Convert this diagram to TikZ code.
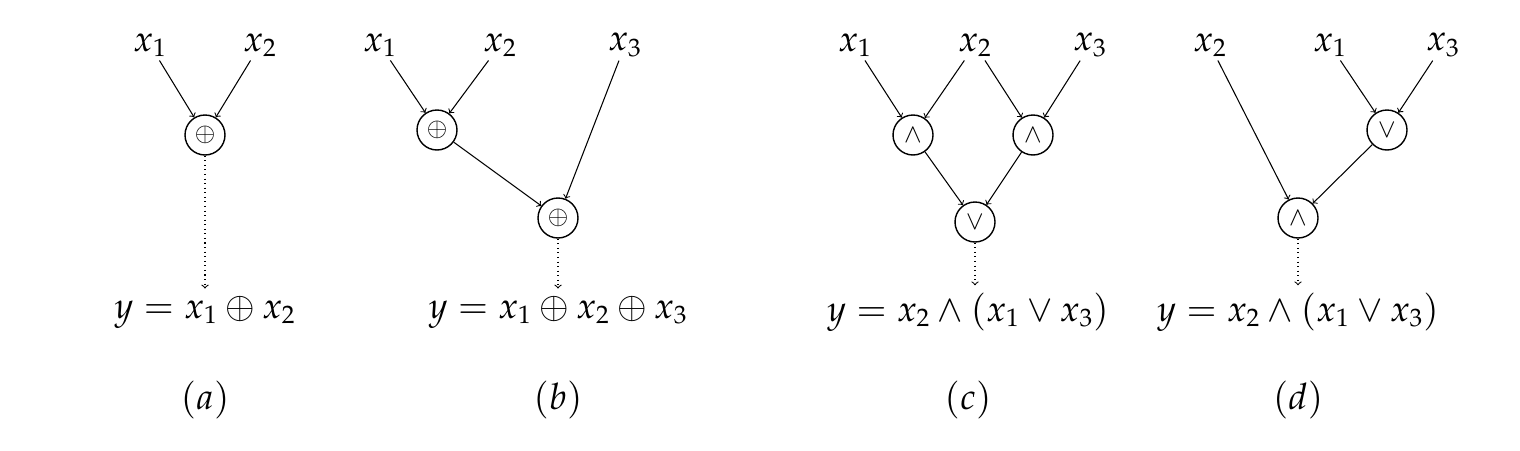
\documentclass[tikz,border=0pt]{standalone}
\usepackage{mathpazo}
\begin{document}
\begin{tikzpicture}[x=0.02cm,y=-0.02cm,
  lab/.style={font=\huge,inner sep=2pt},
  op/.style={draw,circle,minimum size=0.8cm,inner sep=0pt,font=\Large,thick},
  arr/.style={->,>=to,semithick},
  dot/.style={->,>=to,semithick,dotted,shorten >=2pt}]
\useasboundingbox (0,0) rectangle (1520,450);
% (a)
\node[lab] (a1) at (150,45) {$x_1$};
\node[lab] (a2) at (260,45) {$x_2$};
\node[op] (ao) at (205,135) {$\oplus$};
\node[lab] (ay) at (205,312) {$y=x_1\oplus x_2$};
\node[lab] (at) at (205,400) {$(a)$};
\draw[arr] (a1) -- (ao); \draw[arr] (a2) -- (ao);
\draw[dot] (ao) -- (ay.north);
% (b)
\node[lab] (b1) at (380,45) {$x_1$};
\node[lab] (b2) at (500,45) {$x_2$};
\node[lab] (b3) at (625,45) {$x_3$};
\node[op] (bo1) at (437,130) {$\oplus$};
\node[op] (bo2) at (558,218) {$\oplus$};
\node[lab] (by) at (558,312) {$y=x_1\oplus x_2\oplus x_3$};
\node[lab] (bt) at (558,400) {$(b)$};
\draw[arr] (b1) -- (bo1); \draw[arr] (b2) -- (bo1);
\draw[arr] (bo1) -- (bo2); \draw[arr] (b3) -- (bo2);
\draw[dot] (bo2) -- (by.north);
% (c)
\node[lab] (c1) at (855,45) {$x_1$};
\node[lab] (c2) at (975,45) {$x_2$};
\node[lab] (c3) at (1090,45) {$x_3$};
\node[op] (ca1) at (913,135) {$\wedge$};
\node[op] (ca2) at (1033,135) {$\wedge$};
\node[op] (co) at (975,222) {$\vee$};
\node[lab] (cy) at (968,312) {$y=x_2\wedge(x_1\vee x_3)$};
\node[lab] (ct) at (968,400) {$(c)$};
\draw[arr] (c1) -- (ca1); \draw[arr] (c2) -- (ca1);
\draw[arr] (c2) -- (ca2); \draw[arr] (c3) -- (ca2);
\draw[arr] (ca1) -- (co); \draw[arr] (ca2) -- (co);
\draw[dot] (co) -- (co|-cy.north);
% (d)
\node[lab] (d2) at (1210,45) {$x_2$};
\node[lab] (d1) at (1330,45) {$x_1$};
\node[lab] (d3) at (1443,45) {$x_3$};
\node[op] (do) at (1387,130) {$\vee$};
\node[op] (da) at (1298,218) {$\wedge$};
\node[lab] (dy) at (1298,312) {$y=x_2\wedge(x_1\vee x_3)$};
\node[lab] (dt) at (1298,400) {$(d)$};
\draw[arr] (d1) -- (do); \draw[arr] (d3) -- (do);
\draw[arr] (d2) -- (da); \draw[arr] (do) -- (da);
\draw[dot] (da) -- (dy.north);
\end{tikzpicture}
\end{document}
